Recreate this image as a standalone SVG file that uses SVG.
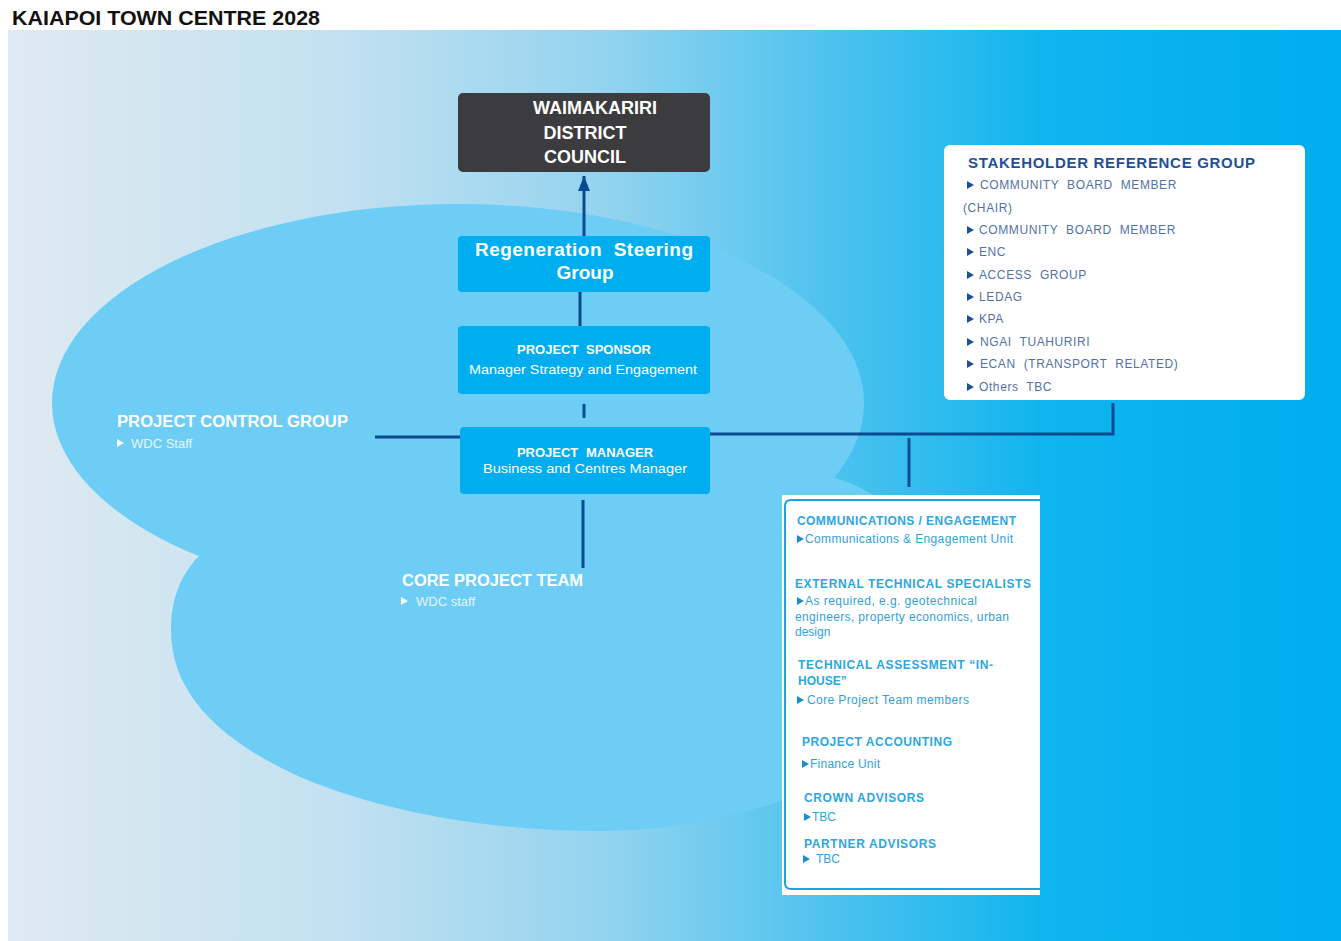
<svg xmlns="http://www.w3.org/2000/svg" width="1341" height="941" viewBox="0 0 1341 941">
<style>
text{font-family:"Liberation Sans",Arial,sans-serif}
.line{stroke:#0b4a8e;stroke-width:3;fill:none}
.box{fill:#00aeef}
.wb{fill:#ffffff;font-weight:bold}
.wr{fill:#ffffff}
.sh{fill:#5272a6;font-size:12px;letter-spacing:0.6px;word-spacing:4px}
.ch{fill:#2ea6df;font-size:12px;font-weight:bold}
.ci{fill:#2fa2db;font-size:12px}
</style>
<defs>
<linearGradient id="bg" x1="0" y1="0" x2="1" y2="0">
<stop offset="0" stop-color="#dfeaf1"/>
<stop offset="0.25" stop-color="#c2e1f1"/>
<stop offset="0.45" stop-color="#93d3ef"/>
<stop offset="0.62" stop-color="#4cc2ee"/>
<stop offset="0.78" stop-color="#0fb5ee"/>
<stop offset="1" stop-color="#00adee"/>
</linearGradient>
<path id="tri" d="M0,-4 L7,0 L0,4 Z"/>
<marker id="ah" viewBox="0 0 10 8" refX="10" refY="4" markerWidth="5" markerHeight="4" orient="auto" markerUnits="strokeWidth">
<path d="M0,0 L10,4 L0,8 Z" fill="#0b4a8e"/>
</marker>
</defs>

<text x="12" y="25" font-size="19.5" font-weight="bold" fill="#111111" textLength="308" lengthAdjust="spacingAndGlyphs">KAIAPOI TOWN CENTRE 2028</text>

<g id="background">
<rect x="8" y="30" width="1333" height="911" fill="url(#bg)"/>
<ellipse cx="458" cy="403" rx="406" ry="199" fill="#6dcdf5"/>
<path d="M200 555 C180 575 171 600 171 630 C171 700 230 745 300 777 C390 815 500 831 600 831 C670 831 730 818 784 800 C940 750 960 540 870 493 C858 486 846 481 835 478 L500 450 Z" fill="#6dcdf5"/>
</g>

<g id="connectors">
<path class="line" d="M584 236 V176" marker-end="url(#ah)"/>
<path class="line" d="M580 292 V326"/>
<path class="line" d="M584 404 V418"/>
<path class="line" d="M375 437 H460"/>
<path class="line" d="M583 500 V568"/>
<path class="line" d="M710 434 H1113 V403"/>
<path class="line" d="M909 438 V487"/>
</g>

<g id="wdc">
<rect x="458" y="93" width="252" height="79" rx="5" fill="#3c3c3e"/>
<text class="wb" x="595" y="114" font-size="18" text-anchor="middle">WAIMAKARIRI</text>
<text class="wb" x="585" y="139" font-size="18" text-anchor="middle">DISTRICT</text>
<text class="wb" x="585" y="163" font-size="18" text-anchor="middle">COUNCIL</text>
</g>

<g id="steering">
<rect class="box" x="458" y="236" width="252" height="56" rx="4"/>
<text class="wb" x="584" y="256" font-size="19" text-anchor="middle" word-spacing="6" textLength="218">Regeneration Steering</text>
<text class="wb" x="585" y="279" font-size="19" text-anchor="middle">Group</text>
</g>

<g id="sponsor">
<rect class="box" x="458" y="326" width="252" height="68" rx="4"/>
<text class="wb" x="584" y="354" font-size="13" text-anchor="middle" word-spacing="4">PROJECT SPONSOR</text>
<text class="wr" x="583" y="374" font-size="13" text-anchor="middle" textLength="228" lengthAdjust="spacingAndGlyphs">Manager Strategy and Engagement</text>
</g>

<g id="manager">
<rect class="box" x="460" y="427" width="250" height="67" rx="4"/>
<text class="wb" x="585" y="457" font-size="13" text-anchor="middle" word-spacing="4">PROJECT MANAGER</text>
<text class="wr" x="585" y="473" font-size="13" text-anchor="middle" textLength="204" lengthAdjust="spacingAndGlyphs">Business and Centres Manager</text>
</g>

<g id="control-group">
<text class="wb" x="117" y="427" font-size="16" textLength="231" lengthAdjust="spacingAndGlyphs">PROJECT CONTROL GROUP</text>
<use href="#tri" x="117" y="443" fill="#f4fbff"/>
<text x="131" y="448" font-size="13" fill="#e8f5fc">WDC Staff</text>
</g>

<g id="core-team">
<text class="wb" x="402" y="586" font-size="16" textLength="181" lengthAdjust="spacingAndGlyphs">CORE PROJECT TEAM</text>
<use href="#tri" x="401" y="601" fill="#f4fbff"/>
<text x="416" y="606" font-size="13" fill="#e8f5fc">WDC staff</text>
</g>

<g id="stakeholder">
<rect x="944" y="145" width="361" height="255" rx="6" fill="#ffffff"/>
<text x="968" y="168" font-size="15" font-weight="bold" fill="#1f4f96" textLength="287">STAKEHOLDER REFERENCE GROUP</text>
<g fill="#1f4f96">
<use href="#tri" x="967" y="185"/>
<use href="#tri" x="967" y="230"/>
<use href="#tri" x="967" y="252"/>
<use href="#tri" x="967" y="275"/>
<use href="#tri" x="967" y="297"/>
<use href="#tri" x="967" y="319"/>
<use href="#tri" x="967" y="342"/>
<use href="#tri" x="967" y="364"/>
<use href="#tri" x="967" y="387"/>
</g>
<text class="sh" x="980" y="189">COMMUNITY BOARD MEMBER</text>
<text class="sh" x="963" y="212">(CHAIR)</text>
<text class="sh" x="979" y="234">COMMUNITY BOARD MEMBER</text>
<text class="sh" x="979" y="256">ENC</text>
<text class="sh" x="979" y="279">ACCESS GROUP</text>
<text class="sh" x="979" y="301">LEDAG</text>
<text class="sh" x="979" y="323">KPA</text>
<text class="sh" x="980" y="346">NGAI TUAHURIRI</text>
<text class="sh" x="980" y="368">ECAN (TRANSPORT RELATED)</text>
<text class="sh" x="979" y="391">Others TBC</text>
</g>

<g id="advisors">
<rect x="782" y="495" width="258" height="400" fill="#ffffff"/>
<path d="M1040 500 H791 Q785 500 785 506 V883 Q785 889 791 889 H1040" fill="none" stroke="#1aa5df" stroke-width="2"/>
<g fill="#1a8fd0">
<use href="#tri" x="797" y="539"/>
<use href="#tri" x="797" y="601"/>
<use href="#tri" x="797" y="700"/>
<use href="#tri" x="802" y="764"/>
<use href="#tri" x="804" y="817"/>
<use href="#tri" x="803" y="859"/>
</g>
<text class="ch" x="797" y="525" textLength="219">COMMUNICATIONS / ENGAGEMENT</text>
<text class="ci" x="805" y="543" textLength="208">Communications &amp; Engagement Unit</text>
<text class="ch" x="795" y="588" textLength="236">EXTERNAL TECHNICAL SPECIALISTS</text>
<text class="ci" x="805" y="605" textLength="172">As required, e.g. geotechnical</text>
<text class="ci" x="795" y="621" textLength="214">engineers, property economics, urban</text>
<text class="ci" x="795" y="636">design</text>
<text class="ch" x="798" y="669" textLength="195">TECHNICAL ASSESSMENT “IN-</text>
<text class="ch" x="798" y="685">HOUSE”</text>
<text class="ci" x="807" y="704" textLength="162">Core Project Team members</text>
<text class="ch" x="802" y="746" textLength="150">PROJECT ACCOUNTING</text>
<text class="ci" x="810" y="768" textLength="70">Finance Unit</text>
<text class="ch" x="804" y="802" textLength="120">CROWN ADVISORS</text>
<text class="ci" x="812" y="821">TBC</text>
<text class="ch" x="804" y="848" textLength="132">PARTNER ADVISORS</text>
<text class="ci" x="816" y="863">TBC</text>
</g>
</svg>
